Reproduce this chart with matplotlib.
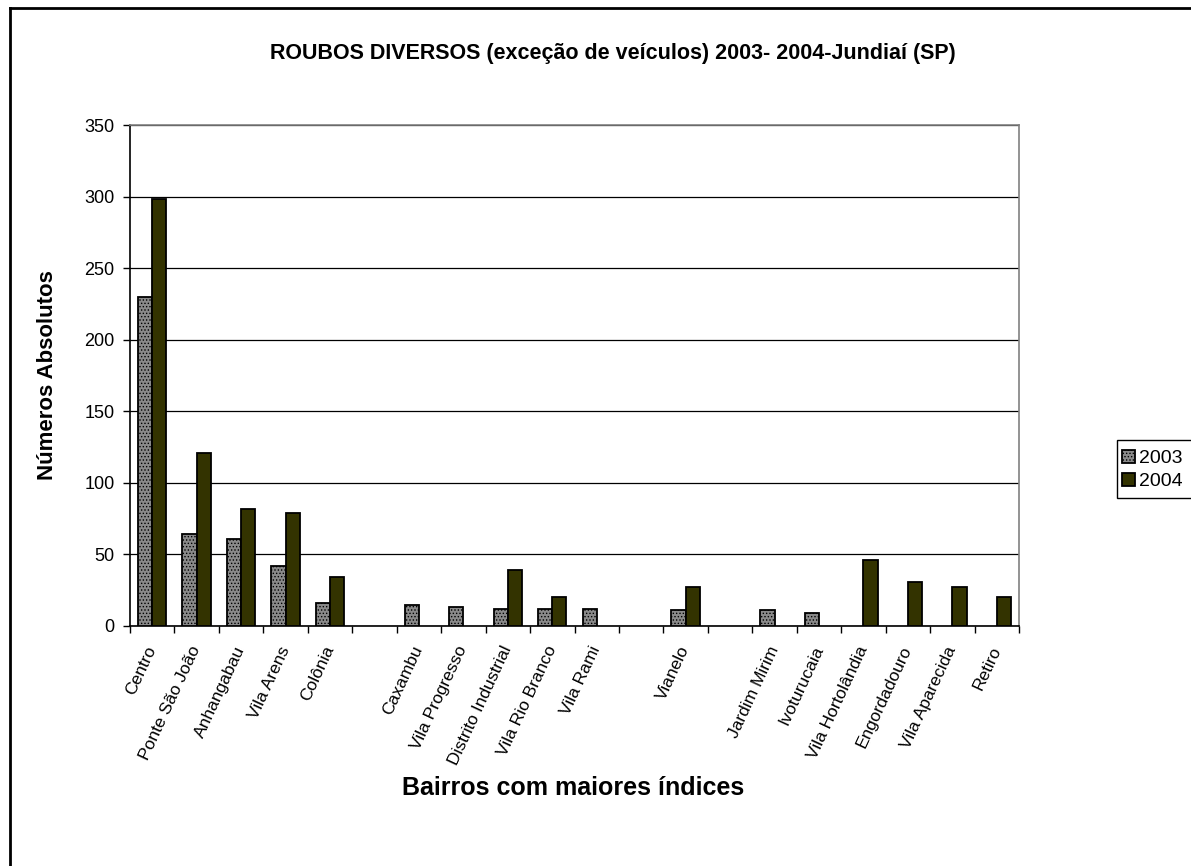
import matplotlib
matplotlib.use("Agg")
import matplotlib.pyplot as plt
import matplotlib.transforms as mtransforms
from matplotlib.patches import Rectangle
import numpy as np

plt.rcParams['font.family'] = ['Liberation Sans', 'DejaVu Sans']
plt.rcParams['hatch.color'] = '#555555'
plt.rcParams['hatch.linewidth'] = 0.6

bairros = ["Centro", "Ponte São João", "Anhangabau", "Vila Arens", "Colônia", "",
           "Caxambu", "Vila Progresso", "Distrito Industrial", "Vila Rio Branco",
           "Vila Rami", "", "Vianelo", "", "Jardim Mirim", "Ivoturucaia",
           "Vila Hortolândia", "Engordadouro", "Vila Aparecida", "Retiro"]
roubos_2003 = [230, 64, 61, 42, 16, 0, 15, 13, 12, 12, 12, 0, 11, 0, 11, 9, 0, 0, 0, 0]
roubos_2004 = [298, 121, 82, 79, 34, 0, 0, 0, 39, 20, 0, 0, 27, 0, 0, 0, 46, 31, 27, 20]
series_labels = ["2003", "2004"]
y_ticks = [0, 50, 100, 150, 200, 250, 300, 350]

W, H = 1191, 866
fig = plt.figure(figsize=(W / 100, H / 100), dpi=100)
ax = fig.add_axes([130 / W, 1 - 626 / H, (1019 - 130) / W, (626 - 125) / H])

x = np.arange(len(bairros))
v03 = np.array(roubos_2003, dtype=float)
v04 = np.array(roubos_2004, dtype=float)
w = 0.32
# empty values get no bar at all
m03 = v03 > 0
m04 = v04 > 0
ax.bar(x[m03] - w / 2, v03[m03], w, color='#8a8a8a', edgecolor='black',
       linewidth=1.3, hatch='.....', label=series_labels[0], zorder=3)
ax.bar(x[m04] + w / 2, v04[m04], w, color='#333300', edgecolor='black',
       linewidth=1.3, label=series_labels[1], zorder=3)

ax.set_xlim(-0.5, len(bairros) - 0.5)
ax.set_ylim(0, 350)
ax.set_yticks(y_ticks)
ax.set_yticklabels([str(v) for v in y_ticks], fontsize=13)
ax.yaxis.grid(True, color='black', linewidth=0.9, zorder=0)
ax.set_axisbelow(True)

ax.set_xticks(x)
ax.set_xticklabels(bairros, rotation=65, ha='right', va='center',
                   rotation_mode='anchor', fontsize=12.5)
shift = mtransforms.ScaledTranslation(6 / 100, 0, fig.dpi_scale_trans)
for lbl in ax.get_xticklabels():
    lbl.set_transform(lbl.get_transform() + shift)
ax.set_xticks(np.arange(len(bairros) + 1) - 0.5, minor=True)
ax.tick_params(axis='x', which='major', length=0, pad=15)
ax.tick_params(axis='x', which='minor', length=5, width=1, direction='out')
ax.tick_params(axis='y', length=5, width=1, direction='out', pad=6)

for s in ['left', 'bottom']:
    ax.spines[s].set_color('black')
    ax.spines[s].set_linewidth(1.2)
for s in ['top', 'right']:
    ax.spines[s].set_color('#808080')
    ax.spines[s].set_linewidth(1.2)

fig.text(48 / W, 1 - 375 / H, "Números Absolutos", rotation=90,
         ha='center', va='center', fontsize=16, fontweight='bold')
fig.text(573 / W, 1 - 788 / H, "Bairros com maiores índices",
         ha='center', va='center', fontsize=18, fontweight='bold')

fig.text(613 / W, 1 - 53 / H, "ROUBOS DIVERSOS (exceção de veículos) 2003- 2004-Jundiaí (SP)",
         ha='center', va='center', fontsize=15.5, fontweight='bold')

# legend box running past the right edge of the chart area
fig.add_artist(Rectangle((1117 / W, 1 - 498 / H), 120 / W, 58 / H,
                         transform=fig.transFigure, facecolor='white',
                         edgecolor='black', linewidth=1.0, zorder=4))
leg = fig.legend(loc='center left', bbox_to_anchor=(1122 / W, 1 - 470 / H),
                 fontsize=14, frameon=False,
                 handlelength=0.65, handleheight=0.65, handletextpad=0.25,
                 borderpad=0.0, labelspacing=0.3, borderaxespad=0)
leg.set_zorder(5)

# outer chart-area frame (left and top edges visible)
fig.add_artist(plt.Line2D([10 / W, 10 / W], [0, 1 - 8 / H],
                          transform=fig.transFigure, color='black', linewidth=2))
fig.add_artist(plt.Line2D([10 / W, 1], [1 - 8 / H, 1 - 8 / H],
                          transform=fig.transFigure, color='black', linewidth=2))

fig.savefig("out.png", dpi=100, facecolor='white')
